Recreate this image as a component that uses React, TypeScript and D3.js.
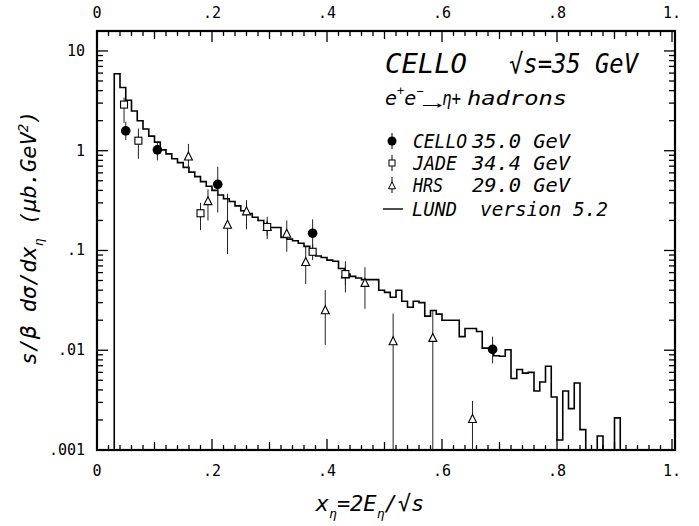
import React from "react";
import * as d3 from "d3";

// LUND 5.2 histogram: bin left edges and contents (0 = empty bin)
const lundEdges = [
  0.03, 0.04, 0.05, 0.06, 0.07, 0.08, 0.09, 0.10, 0.11, 0.12,
  0.13, 0.14, 0.15, 0.16, 0.17, 0.18, 0.19, 0.20, 0.21, 0.22,
  0.23, 0.24, 0.25, 0.26, 0.27, 0.28, 0.29, 0.30, 0.31, 0.32,
  0.33, 0.34, 0.35, 0.36, 0.37, 0.38, 0.39, 0.40, 0.41, 0.42,
  0.43, 0.44, 0.45, 0.46, 0.47, 0.48, 0.49, 0.50, 0.51, 0.52,
  0.53, 0.54, 0.55, 0.56, 0.57, 0.58, 0.59, 0.60, 0.61, 0.62,
  0.63, 0.64, 0.65, 0.66, 0.67, 0.68, 0.69, 0.70, 0.71, 0.72,
  0.73, 0.74, 0.75, 0.76, 0.77, 0.78, 0.79, 0.80, 0.81, 0.82,
  0.83, 0.84, 0.85, 0.86, 0.87, 0.88, 0.89, 0.90, 0.91,
];
const lundValues = [
  5.9, 4.3, 3.2, 2.5, 2.0, 1.65, 1.40, 1.22, 1.02, 0.93,
  0.83, 0.76, 0.68, 0.61, 0.55, 0.49, 0.44, 0.40, 0.36, 0.33,
  0.31, 0.28, 0.25, 0.235, 0.215, 0.20, 0.18, 0.17, 0.17, 0.135,
  0.13, 0.125, 0.118, 0.11, 0.092, 0.088, 0.085, 0.080, 0.078, 0.066,
  0.058, 0.055, 0.053, 0.051, 0.051, 0.051, 0.040, 0.038, 0.034, 0.040,
  0.031, 0.027, 0.031, 0.030, 0.022, 0.025, 0.023, 0.020, 0.020, 0.020,
  0.0137, 0.0165, 0.0165, 0.0154, 0.0105, 0.0105, 0.0088, 0.0087, 0.0101, 0.0052,
  0.0064, 0.0059, 0.0060, 0.0039, 0.0048, 0.0069, 0.0034, 0.00126, 0.0039, 0.0026,
  0.0047, 0.0016, 0, 0, 0.00138, 0, 0, 0.0021, 0,
];
const lundBinWidth = 0.01;

// CELLO 35.0 GeV
const celloX = [0.05, 0.105, 0.21, 0.375, 0.688];
const celloY = [1.58, 1.02, 0.46, 0.149, 0.0102];
const celloLo = [1.28, 0.80, 0.24, 0.105, 0.0074];
const celloHi = [1.95, 1.20, 0.69, 0.205, 0.0137];

// JADE 34.4 GeV
const jadeX = [0.047, 0.072, 0.18, 0.296, 0.375, 0.432];
const jadeY = [2.9, 1.26, 0.236, 0.172, 0.097, 0.058];
const jadeLo = [1.9, 0.83, 0.16, 0.14, 0.08, 0.045];
const jadeHi = [3.4, 1.67, 0.30, 0.20, 0.115, 0.07];

// HRS 29.0 GeV
const hrsX = [0.159, 0.193, 0.227, 0.26, 0.296, 0.33, 0.363, 0.397, 0.432, 0.466, 0.515, 0.584, 0.653];
const hrsY = [0.87, 0.31, 0.18, 0.245, 0.171, 0.146, 0.076, 0.025, 0.057, 0.047, 0.0122, 0.0132, 0.00203];
const hrsLo = [0.6, 0.2, 0.092, 0.163, 0.13, 0.097, 0.046, 0.0113, 0.038, 0.026, 0.001, 0.001, 0.001];
const hrsHi = [1.17, 0.41, 0.37, 0.32, 0.218, 0.2, 0.109, 0.040, 0.078, 0.068, 0.0233, 0.025, 0.0031];

const xTickLabels = ["0", ".2", ".4", ".6", ".8", "1."];
const xTickValues = [0, 0.2, 0.4, 0.6, 0.8, 1.0];
const yTickLabels = ["10", "1", ".1", ".01", ".001"];
const yTickValues = [10, 1, 0.1, 0.01, 0.001];

const legendNames = ["CELLO", "JADE", "HRS", "LUND"];
const legendEnergies = ["35.0 GeV", "34.4 GeV", "29.0 GeV", "version 5.2"];

const W = 699;
const H = 526;
const L = 97, R = 675, T = 31, B = 450;
const YMIN = 0.001;
const YMAX = Math.pow(10, 1.2);

const mono = "'DejaVu Sans Mono', 'Liberation Mono', monospace";

export default function App() {
  const x = d3.scaleLinear().domain([0, 1]).range([L, 672]);
  const y = d3.scaleLog().domain([YMIN, YMAX]).range([B, T]);
  const yc = (v: number) => y(Math.max(v, YMIN));

  // histogram points
  const pts: [number, number][] = [[lundEdges[0], YMIN]];
  lundEdges.forEach((e, i) => pts.push([e, Math.max(lundValues[i], YMIN)]));
  const lastEdge = lundEdges[lundEdges.length - 1] + lundBinWidth;
  pts.push([lastEdge, YMIN]);
  const histLine = d3
    .line<[number, number]>()
    .x((d) => x(d[0]))
    .y((d) => y(d[1]))
    .curve(d3.curveStepAfter);

  // axis ticks
  const xTicks = d3.range(0, 51).map((i) => i * 0.02);
  const yTicks: { v: number; major: boolean }[] = [];
  for (let p = -3; p <= 1; p++) {
    for (let m = 1; m <= 9; m++) {
      const v = m * Math.pow(10, p);
      if (v <= YMAX * 1.0001) yTicks.push({ v, major: m === 1 });
    }
  }

  const tickLen = (i: number) => (i % 10 === 0 ? 11 : i % 5 === 0 ? 8 : 5);

  const errBar = (xs: number[], lo: number[], hi: number[], key: string) =>
    xs.map((xv, i) => (
      <line
        key={key + i}
        x1={x(xv)}
        x2={x(xv)}
        y1={yc(lo[i])}
        y2={yc(hi[i])}
        stroke="#222"
        strokeWidth={1}
      />
    ));

  const tri = (cx: number, cy: number, s: number) =>
    `M${cx},${cy - s * 0.6} L${cx + s * 0.5},${cy + s * 0.4} L${cx - s * 0.5},${cy + s * 0.4} Z`;

  const nameLen = [54, 44, 30, 45];
  const enX = [472, 472, 472, 480];
  const enLen = [98, 98, 98, 128];
  const rowY = [148, 170, 192, 216];

  return (
    <svg width={W} height={H} style={{ display: "block", position: "absolute", left: 0, top: 0, background: "#fff" }}>
      <rect x={0} y={0} width={W} height={H} fill="#fff" />
      {/* frame */}
      <rect x={L} y={T} width={R - L} height={B - T} fill="none" stroke="#000" strokeWidth={2.2} />
      {/* x ticks top/bottom */}
      {xTicks.map((v, i) => (
        <g key={"xt" + i}>
          <line x1={x(v)} x2={x(v)} y1={B} y2={B - tickLen(i)} stroke="#000" strokeWidth={1.3} />
          <line x1={x(v)} x2={x(v)} y1={T} y2={T + tickLen(i)} stroke="#000" strokeWidth={1.3} />
        </g>
      ))}
      {/* y ticks left/right */}
      {yTicks.map((t, i) => (
        <g key={"yt" + i}>
          <line x1={L} x2={L + (t.major ? 11 : 6)} y1={y(t.v)} y2={y(t.v)} stroke="#000" strokeWidth={1.3} />
          <line x1={R} x2={R - (t.major ? 11 : 6)} y1={y(t.v)} y2={y(t.v)} stroke="#000" strokeWidth={1.3} />
        </g>
      ))}
      {/* x tick labels */}
      {xTickValues.map((v, i) => (
        <g key={"xl" + i} fontFamily={mono} fontSize={15} textAnchor="middle">
          <text x={x(v)} y={18}>{xTickLabels[i]}</text>
          <text x={x(v)} y={476}>{xTickLabels[i]}</text>
        </g>
      ))}
      {/* y tick labels */}
      {yTickValues.map((v, i) => (
        <text key={"yl" + i} x={85} y={y(v) + 5} fontFamily={mono} fontSize={15} textAnchor="end">
          {yTickLabels[i]}
        </text>
      ))}
      {/* histogram */}
      <path d={histLine(pts) || ""} fill="none" stroke="#000" strokeWidth={1.6} />
      {/* error bars */}
      {errBar(hrsX, hrsLo, hrsHi, "he")}
      {errBar(jadeX, jadeLo, jadeHi, "je")}
      {errBar(celloX, celloLo, celloHi, "ce")}
      {/* HRS triangles */}
      {hrsX.map((xv, i) => (
        <path key={"h" + i} d={tri(x(xv), y(hrsY[i]), 8)} fill="#fff" stroke="#000" strokeWidth={1.1} />
      ))}
      {/* JADE squares */}
      {jadeX.map((xv, i) => (
        <rect key={"j" + i} x={x(xv) - 3.5} y={y(jadeY[i]) - 3.5} width={7} height={7} fill="#fff" stroke="#000" strokeWidth={1.1} />
      ))}
      {/* CELLO circles */}
      {celloX.map((xv, i) => (
        <circle key={"c" + i} cx={x(xv)} cy={y(celloY[i])} r={4.8} fill="#000" />
      ))}

      {/* Title block */}
      <g fontFamily={mono} fontStyle="italic" fill="#000">
        <text x={385} y={73} fontSize={27} textLength={82} lengthAdjust="spacingAndGlyphs">CELLO</text>
        <text x={509} y={73} fontSize={27} textLength={129} lengthAdjust="spacingAndGlyphs">√s=35 GeV</text>
        <text x={385} y={105} fontSize={20}>
          e<tspan dy={-10} fontSize={12}>+</tspan>
          <tspan dy={10}>e</tspan>
          <tspan dy={-10} fontSize={12}>−</tspan>
        </text>
        <text x={424} y={109} fontSize={12} textLength={16} lengthAdjust="spacingAndGlyphs">⟶</text>
        <text x={442} y={105} fontSize={20} textLength={19} lengthAdjust="spacingAndGlyphs">η+</text>
        <text x={467} y={105} fontSize={20} textLength={100} lengthAdjust="spacingAndGlyphs">hadrons</text>
        {legendNames.map((n, i) => (
          <g key={"lg" + i} fontSize={19}>
            <text x={i === 3 ? 412 : 413} y={rowY[i]} textLength={nameLen[i]} lengthAdjust="spacingAndGlyphs">{n}</text>
            <text x={enX[i]} y={rowY[i]} textLength={enLen[i]} lengthAdjust="spacingAndGlyphs">{legendEnergies[i]}</text>
          </g>
        ))}
      </g>
      {/* legend markers */}
      <line x1={392} x2={392} y1={133} y2={149} stroke="#000" strokeWidth={1} />
      <circle cx={392} cy={141} r={4.5} fill="#000" />
      <line x1={392} x2={392} y1={155} y2={171} stroke="#000" strokeWidth={1} />
      <rect x={389} y={160} width={6} height={6} fill="#fff" stroke="#000" />
      <line x1={392} x2={392} y1={177} y2={193} stroke="#000" strokeWidth={1} />
      <path d={tri(392, 186, 7)} fill="#fff" stroke="#000" />
      <line x1={383} x2={403} y1={209} y2={209} stroke="#000" strokeWidth={1.4} />

      {/* axis titles */}
      <text x={370} y={511} fontSize={22} fontStyle="italic" fontFamily={mono} textAnchor="middle">
        x<tspan dy={7} fontSize={13}>η</tspan>
        <tspan dy={-7}>=2E</tspan>
        <tspan dy={7} fontSize={13}>η</tspan>
        <tspan dy={-7}>/√s</tspan>
      </text>
      <text
        transform="translate(36,238) rotate(-90)"
        fontSize={22}
        fontStyle="italic"
        fontFamily={mono}
        textAnchor="middle"
      >
        s/β dσ/dx<tspan dy={7} fontSize={13}>η</tspan>
        <tspan dy={-7}>  (μb.GeV</tspan>
        <tspan dy={-8} fontSize={14}>2</tspan>
        <tspan dy={8}>)</tspan>
      </text>
    </svg>
  );
}
